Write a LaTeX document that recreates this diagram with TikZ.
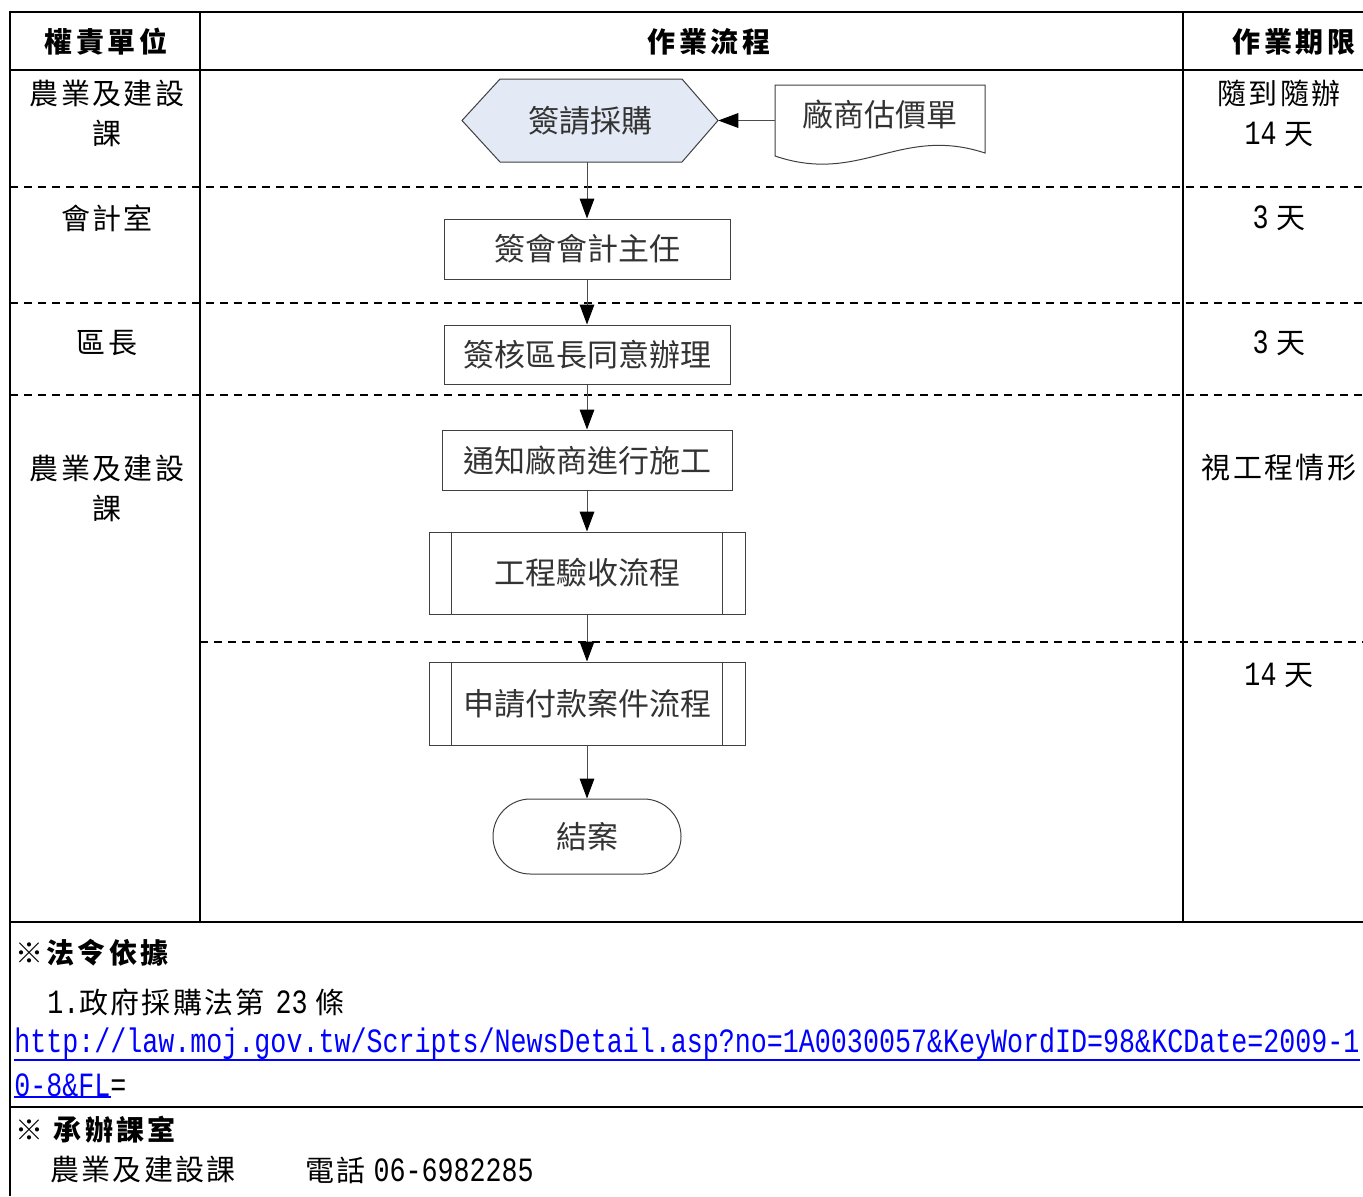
\documentclass[tikz,border=0pt]{standalone}
\usepackage{fontspec}
\usepackage{graphicx}
\setmainfont{Liberation Serif}
\setmonofont{Liberation Mono}
\newfontfamily\cjk{Noto Sans CJK TC}
\newfontfamily\cjks{Noto Sans CJK TC}[LetterSpace=8]
\newfontfamily\cjkh{Noto Sans CJK TC}[LetterSpace=12]
\usetikzlibrary{arrows.meta,calc}
\definecolor{hexfill}{RGB}{227,233,245}
\definecolor{urlblue}{RGB}{0,0,255}
\newcommand\nar[1]{\scalebox{0.785}[1]{\fontsize{25.5}{30}\selectfont\ttfamily #1}}
\newcommand\boxfont{\cjk\fontsize{23.25}{28}\selectfont}
\newcommand\kaifont{\cjks\fontsize{21.75}{30}\selectfont}
\newcommand\headfont{\cjkh\bfseries\fontsize{21}{24}\selectfont}
\begin{document}
\begin{tikzpicture}[x=0.75pt,y=-0.75pt,
  frame/.style={line width=1.5pt,black},
  dline/.style={line width=1.2pt,black,dash pattern=on 6pt off 4.5pt},
  shapeline/.style={draw=black!75,line width=0.75pt},
  box/.style={shapeline,fill=white,font=\boxfont,text=black!80,inner sep=0pt},
  ghost/.style={font=\boxfont,text=black!80,inner sep=0pt},
  arr/.style={draw=black!70,line width=0.75pt,-{Triangle[length=15pt,width=11pt,color=black]}},
  kai/.style={font=\kaifont,align=center,inner sep=0pt},
  head/.style={font=\headfont,inner sep=0pt},
  note/.style={font=\kaifont,anchor=west,inner sep=0pt}]
\useasboundingbox (0,0) rectangle (1363,1196);
% frame
\draw[frame] (10,1196) -- (10,12) -- (1363,12);
\draw[frame] (10,70) -- (1363,70);
\draw[frame] (10,922) -- (1363,922);
\draw[frame] (10,1107) -- (1363,1107);
\draw[frame] (200,12) -- (200,922);
\draw[frame] (1183,12) -- (1183,922);
% dashed lane separators
\draw[dline] (10,187) -- (1363,187);
\draw[dline] (10,303) -- (1363,303);
\draw[dline] (10,395) -- (1363,395);
\draw[dline] (200,642) -- (1363,642);
% headers
\node[head] (h1) at (106,42) {權責單位};
\node[head] (h2) at (709,42) {作業流程};
\node[head] (h3) at (1294,42) {作業期限};
% left column
\node[kai] (l1) at (107,113) {農業及建設\\課};
\node[kai] (l2) at (107,218) {會計室};
\node[kai] (l3) at (107,343) {區長};
\node[kai] (l4) at (107,488) {農業及建設\\課};
% right column
\node[kai] (r1) at (1279,113) {隨到隨辦\\\nar{14}\hspace{6pt}天};
\node[kai] (r2) at (1279,218) {\nar{3}\hspace{6pt}天};
\node[kai] (r3) at (1279,343) {\nar{3}\hspace{6pt}天};
\node[kai] (r4) at (1279,468) {視工程情形};
\node[kai] (r5) at (1279,675) {\nar{14}\hspace{6pt}天};
% flow: hexagon
\filldraw[shapeline,fill=hexfill] (462,120.5) -- (500,79) -- (682,79) -- (718,120.5) -- (682,162) -- (500,162) -- cycle;
\node[ghost,minimum width=192pt,minimum height=62.25pt] (hex) at (590,120.5) {簽請採購};
% document
\draw[shapeline,fill=white] (775,85) -- (985,85) -- (985,153) .. controls (900,125) and (860,185) .. (775,156) -- cycle;
\node[ghost,minimum width=157.5pt,minimum height=45pt] (doc) at (880,115) {廠商估價單};
% process boxes
\node[box,minimum width=214.5pt,minimum height=45pt] (b2) at (587,249) {簽會會計主任};
\node[box,minimum width=214.5pt,minimum height=44.25pt] (b3) at (587,354.5) {簽核區長同意辦理};
\node[box,minimum width=217.5pt,minimum height=45pt] (b4) at (587,460) {通知廠商進行施工};
\node[box,minimum width=237pt,minimum height=61.5pt] (p1) at (587,573) {工程驗收流程};
\draw[shapeline] ($(p1.north west)+(23,0)$) -- ($(p1.south west)+(23,0)$);
\draw[shapeline] ($(p1.north east)+(-23,0)$) -- ($(p1.south east)+(-23,0)$);
\node[box,minimum width=237pt,minimum height=62.25pt] (p2) at (587,703.5) {申請付款案件流程};
\draw[shapeline] ($(p2.north west)+(23,0)$) -- ($(p2.south west)+(23,0)$);
\draw[shapeline] ($(p2.north east)+(-23,0)$) -- ($(p2.south east)+(-23,0)$);
\node[box,rounded corners=28pt,minimum width=141pt,minimum height=56.25pt] (end) at (587,836.5) {結案};
% connectors
\draw[arr] (doc.west |- hex.east) -- (hex.east);
\draw[arr] (b2.north |- hex.south) -- (b2.north);
\draw[arr] (b2.south) -- (b3.north);
\draw[arr] (b3.south) -- (b4.north);
\draw[arr] (b4.south) -- (p1.north);
\draw[arr] (p1.south) -- (p2.north);
\draw[arr] (p2.south) -- (end.north);
% notes
\node[note,font=\headfont] (n1) at (15,953) {※法令依據};
\node[note] (n2) at (47,1002) {\nar{1.}政府採購法第\hspace{8pt}\nar{23}\hspace{6pt}條};
\node[note,text=urlblue] (n3) at (14,1044) {\nar{http://law.moj.gov.tw/Scripts/NewsDetail.asp?no=1A0030057\&KeyWordID=98\&KCDate=2009-1}};
\node[note] (n4) at (14,1085) {\textcolor{urlblue}{\nar{0-8\&FL}}\nar{=}};
\draw[urlblue,line width=1.2pt] (n3.south west) -- (n3.south east);
\draw[urlblue,line width=1.2pt] (n4.south west) -- ($(n4.south east)+(-16,0)$);
\node[note,font=\headfont] (n5) at (15,1130) {※\hspace{8pt}承辦課室};
\node[note] (n6) at (50,1170) {農業及建設課};
\node[note] (n7) at (305,1170) {電話\hspace{6pt}\nar{06-6982285}};
\end{tikzpicture}
\end{document}
